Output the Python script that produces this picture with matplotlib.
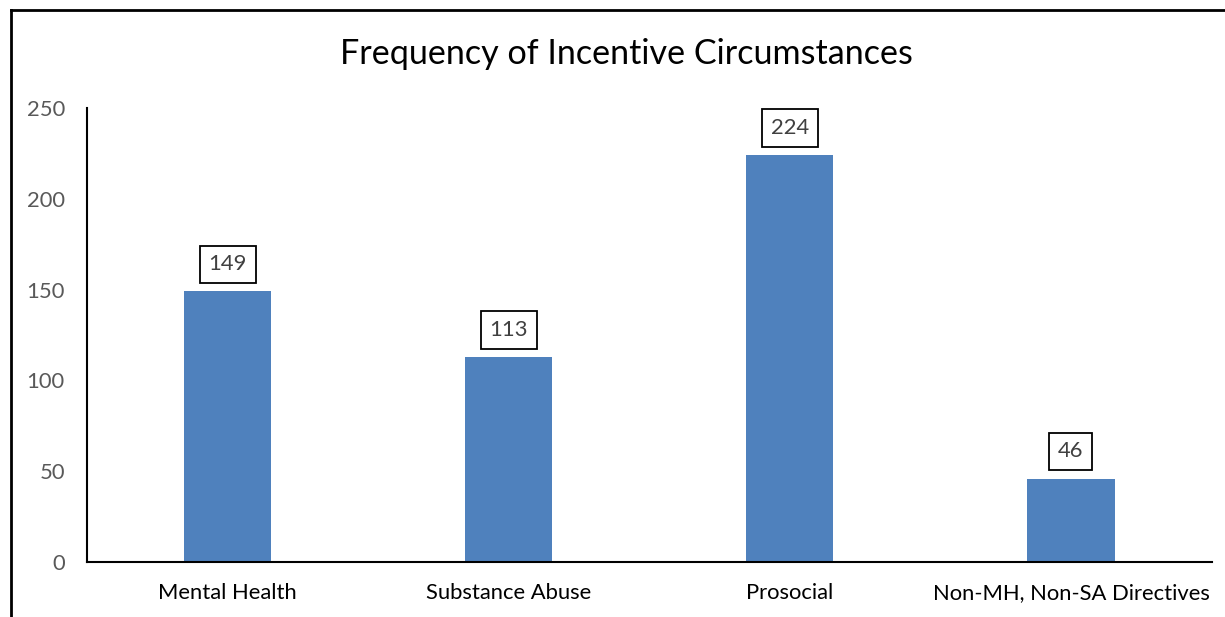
import matplotlib.pyplot as plt
from matplotlib.lines import Line2D

categorias = ["Mental Health", "Substance Abuse", "Prosocial", "Non-MH, Non-SA Directives"]
frequencias = [149, 113, 224, 46]
ticks_y = [0, 50, 100, 150, 200, 250]

plt.rcParams["font.family"] = ["Lato", "DejaVu Sans"]

figura = plt.figure(figsize=(12.25, 6.17), dpi=100)
grafico = figura.add_axes([0.071, 0.089, 0.918, 0.736])

posicoes = range(len(categorias))
barras = grafico.bar(posicoes, frequencias, width=0.31, color="#4f81bd", zorder=2)

grafico.set_xlim(-0.5, len(categorias) - 0.5)
grafico.set_ylim(0, 250)
grafico.set_yticks(ticks_y)
grafico.set_xticks(list(posicoes))
grafico.set_xticklabels(categorias, fontsize=15.8, color="black")
grafico.tick_params(axis="y", labelsize=15.8, labelcolor="#595959", length=0, pad=16)
grafico.tick_params(axis="x", length=0, pad=15)

for lado in ["top", "right"]:
    grafico.spines[lado].set_visible(False)
grafico.spines["left"].set_linewidth(1.5)
grafico.spines["bottom"].set_linewidth(1.5)

# rótulos com o valor de cada barra, dentro de uma caixa
for barra, valor in zip(barras, frequencias):
    grafico.annotate(str(valor), (barra.get_x() + barra.get_width() / 2, valor),
                     xytext=(0, 19.5), textcoords="offset points",
                     ha="center", va="center", fontsize=15.8, color="#404040",
                     bbox=dict(boxstyle="square,pad=0.4", fc="white", ec="black", lw=1.3))

figura.text(0.511, 0.912, "Frequency of Incentive Circumstances",
            ha="center", va="center", fontsize=24.6, color="black")

# moldura do gráfico (só os lados de cima e da esquerda aparecem)
figura.add_artist(Line2D([0.009, 1.0], [0.984, 0.984], color="black", lw=2,
                         transform=figura.transFigure))
figura.add_artist(Line2D([0.009, 0.009], [0.0, 0.984], color="black", lw=2,
                         transform=figura.transFigure))

figura.savefig("out.png", dpi=100)
